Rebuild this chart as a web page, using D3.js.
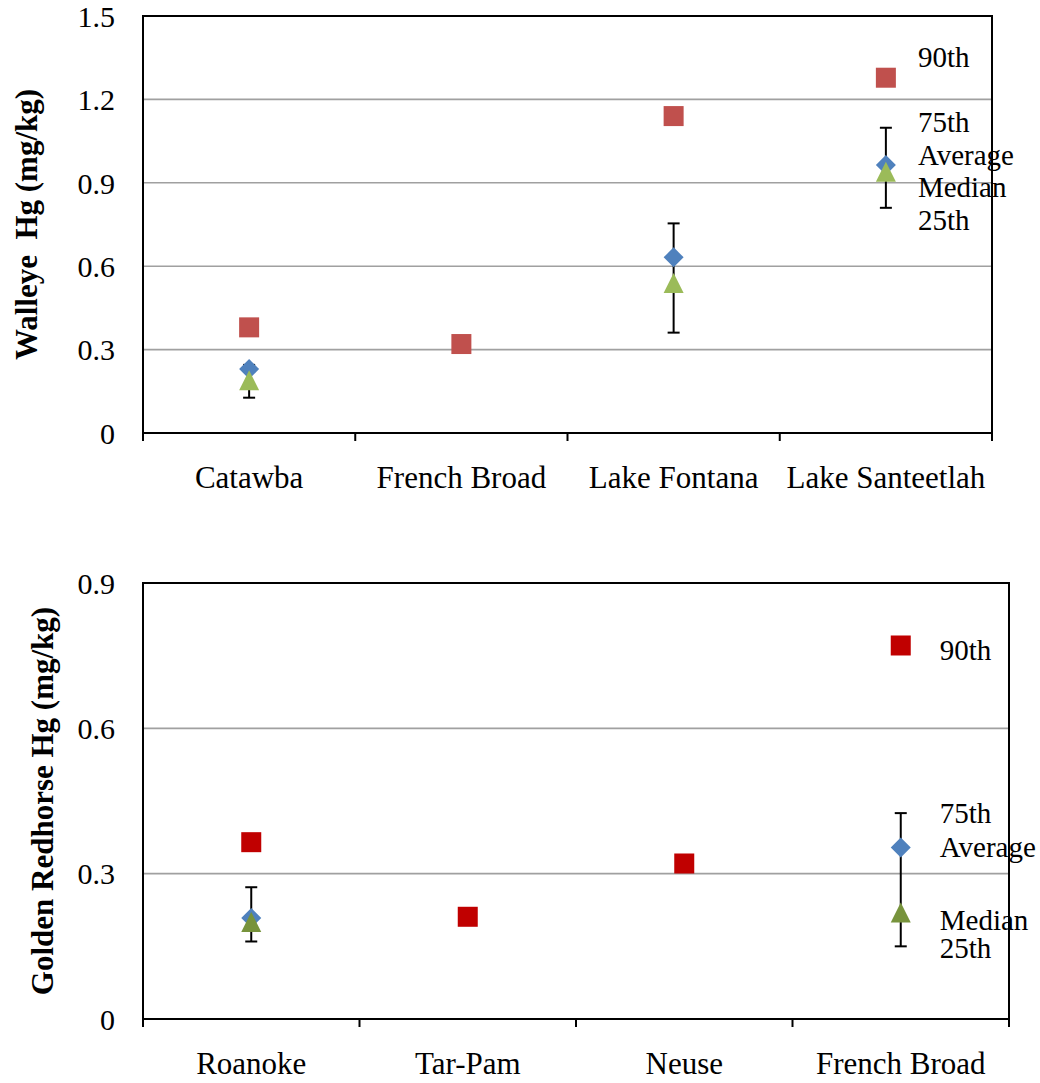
<!DOCTYPE html>
<html>
<head>
<meta charset="utf-8">
<script src="https://cdn.jsdelivr.net/npm/d3@7"></script>
<style>
  body { margin: 0; background: #fff; }
  text { font-family: "Liberation Serif", "Times New Roman", serif; }
</style>
</head>
<body>
<svg id="chart" width="1040" height="1083"></svg>
<script>
// Walleye
var walleyeSites = ["Catawba", "French Broad", "Lake Fontana", "Lake Santeetlah"];
var walleyeP90 = [0.38, 0.32, 1.14, 1.278];
var walleyeAvg = [0.23, null, 0.632, 0.964];
var walleyeMedian = [0.19, null, 0.54, 0.94];
var walleyeP75 = [0.245, null, 0.754, 1.098];
var walleyeP25 = [0.127, null, 0.361, 0.81];
var walleyeTicks = [0, 0.3, 0.6, 0.9, 1.2, 1.5];

// Golden Redhorse
var redhorseSites = ["Roanoke", "Tar-Pam", "Neuse", "French Broad"];
var redhorseP90 = [0.365, 0.211, 0.321, 0.771];
var redhorseAvg = [0.2085, null, null, 0.354];
var redhorseMedian = [0.20, null, null, 0.22];
var redhorseP75 = [0.272, null, null, 0.425];
var redhorseP25 = [0.160, null, null, 0.15];
var redhorseTicks = [0, 0.3, 0.6, 0.9];

// annotation text next to the last site, anchored at a value on the y scale
var statLabels = ["90th", "75th", "Average", "Median", "25th"];
var walleyeLabelAt = [1.317, 1.083, 0.964, 0.849, 0.730];
var redhorseLabelAt = [0.742, 0.405, 0.335, 0.184, 0.126];

var svg = d3.select("#chart");
var FONT = 31;       // axis text
var TICK_FONT = 30;  // y tick labels
var LABEL_FONT = 29; // stat labels

function drawPanel(opt) {
    var g = svg.append("g")
        .attr("transform", "translate(" + opt.left + "," + opt.top + ")");
    var w = opt.width, h = opt.height;

    var x = d3.scaleBand().domain(opt.sites).range([0, w]).padding(0);
    var y = d3.scaleLinear().domain([0, d3.max(opt.ticks)]).range([h, 0]);

    // gridlines
    g.append("g")
        .selectAll("line")
        .data(opt.ticks.filter(function(t) { return t > 0 && t < d3.max(opt.ticks); }))
        .enter().append("line")
        .attr("x1", 0).attr("x2", w)
        .attr("y1", function(d) { return y(d); })
        .attr("y2", function(d) { return y(d); })
        .style("stroke", "#a0a0a0")
        .style("stroke-width", 1.6);

    // y axis labels
    var yAxis = d3.axisLeft(y)
        .tickValues(opt.ticks)
        .tickSize(0)
        .tickPadding(28)
        .tickFormat(function(d) { return d === 0 ? "0" : d3.format(".1f")(d); });
    var ya = g.append("g").call(yAxis);
    ya.select(".domain").remove();
    ya.selectAll("text")
        .attr("dy", "0.34em")
        .style("font-size", TICK_FONT + "px")
        .style("font-family", "'Liberation Serif', 'Times New Roman', serif")
        .attr("fill", "#000");

    // plot frame
    g.append("rect")
        .attr("x", 0).attr("y", 0)
        .attr("width", w).attr("height", h)
        .style("fill", "none")
        .style("stroke", "black")
        .style("stroke-width", 2);

    // category ticks at the band edges
    var edges = opt.sites.map(function(s) { return x(s); }).concat([w]);
    g.append("g").selectAll("line")
        .data(edges)
        .enter().append("line")
        .attr("x1", function(d) { return d; })
        .attr("x2", function(d) { return d; })
        .attr("y1", h).attr("y2", h + 8)
        .style("stroke", "black")
        .style("stroke-width", 2);

    // category labels
    g.append("g").selectAll("text")
        .data(opt.sites)
        .enter().append("text")
        .attr("x", function(d) { return x(d) + x.bandwidth() / 2; })
        .attr("y", h + 55)
        .attr("text-anchor", "middle")
        .style("font-size", FONT + "px")
        .text(function(d) { return d; });

    // y title
    g.append("text")
        .attr("transform", "translate(" + opt.titleX + "," + (h / 2) + ") rotate(-90)")
        .attr("text-anchor", "middle")
        .attr("dy", "0.35em")
        .style("font-size", FONT + "px")
        .style("font-weight", "bold")
        .style("white-space", "pre")
        .text(opt.title);

    var cx = function(i) { return x(opt.sites[i]) + x.bandwidth() / 2; };
    var idx = d3.range(opt.sites.length);

    // error bars (25th - 75th)
    var eb = g.append("g").selectAll("g")
        .data(idx.filter(function(i) { return opt.p75[i] != null; }))
        .enter().append("g");
    eb.append("line")
        .attr("x1", cx).attr("x2", cx)
        .attr("y1", function(i) { return y(opt.p75[i]); })
        .attr("y2", function(i) { return y(opt.p25[i]); });
    eb.append("line")
        .attr("x1", function(i) { return cx(i) - 6; })
        .attr("x2", function(i) { return cx(i) + 6; })
        .attr("y1", function(i) { return y(opt.p75[i]); })
        .attr("y2", function(i) { return y(opt.p75[i]); });
    eb.append("line")
        .attr("x1", function(i) { return cx(i) - 6; })
        .attr("x2", function(i) { return cx(i) + 6; })
        .attr("y1", function(i) { return y(opt.p25[i]); })
        .attr("y2", function(i) { return y(opt.p25[i]); });
    eb.selectAll("line")
        .style("stroke", "black")
        .style("stroke-width", 2);

    // 90th percentile squares
    g.append("g").selectAll("rect")
        .data(idx.filter(function(i) { return opt.p90[i] != null; }))
        .enter().append("rect")
        .attr("x", function(i) { return cx(i) - 10; })
        .attr("y", function(i) { return y(opt.p90[i]) - 10; })
        .attr("width", 20).attr("height", 20)
        .style("fill", opt.squareColor);

    // average diamonds
    g.append("g").selectAll("path")
        .data(idx.filter(function(i) { return opt.avg[i] != null; }))
        .enter().append("path")
        .attr("d", "M0,-10L10,0L0,10L-10,0Z")
        .attr("transform", function(i) { return "translate(" + cx(i) + "," + y(opt.avg[i]) + ")"; })
        .style("fill", "#4f81bd");

    // median triangles
    g.append("g").selectAll("path")
        .data(idx.filter(function(i) { return opt.median[i] != null; }))
        .enter().append("path")
        .attr("d", "M0,-10L10,10L-10,10Z")
        .attr("transform", function(i) { return "translate(" + cx(i) + "," + y(opt.median[i]) + ")"; })
        .style("fill", opt.triColor);

    // stat labels beside the last site
    var lastX = cx(opt.sites.length - 1) + opt.labelDx;
    g.append("g").selectAll("text")
        .data(statLabels)
        .enter().append("text")
        .attr("x", lastX)
        .attr("y", function(d, i) { return y(opt.labelAt[i]); })
        .style("font-size", LABEL_FONT + "px")
        .text(function(d) { return d; });
}

drawPanel({
    left: 143, top: 16, width: 849, height: 417,
    sites: walleyeSites, ticks: walleyeTicks,
    p90: walleyeP90, avg: walleyeAvg, median: walleyeMedian,
    p75: walleyeP75, p25: walleyeP25,
    squareColor: "#c0504d", triColor: "#9bbb59",
    labelAt: walleyeLabelAt, labelDx: 32,
    title: "Walleye  Hg (mg/kg)", titleX: -117
});

drawPanel({
    left: 143, top: 583, width: 866, height: 436,
    sites: redhorseSites, ticks: redhorseTicks,
    p90: redhorseP90, avg: redhorseAvg, median: redhorseMedian,
    p75: redhorseP75, p25: redhorseP25,
    squareColor: "#c00000", triColor: "#77933c",
    labelAt: redhorseLabelAt, labelDx: 39,
    title: "Golden Redhorse Hg (mg/kg)", titleX: -101
});
</script>
</body>
</html>
